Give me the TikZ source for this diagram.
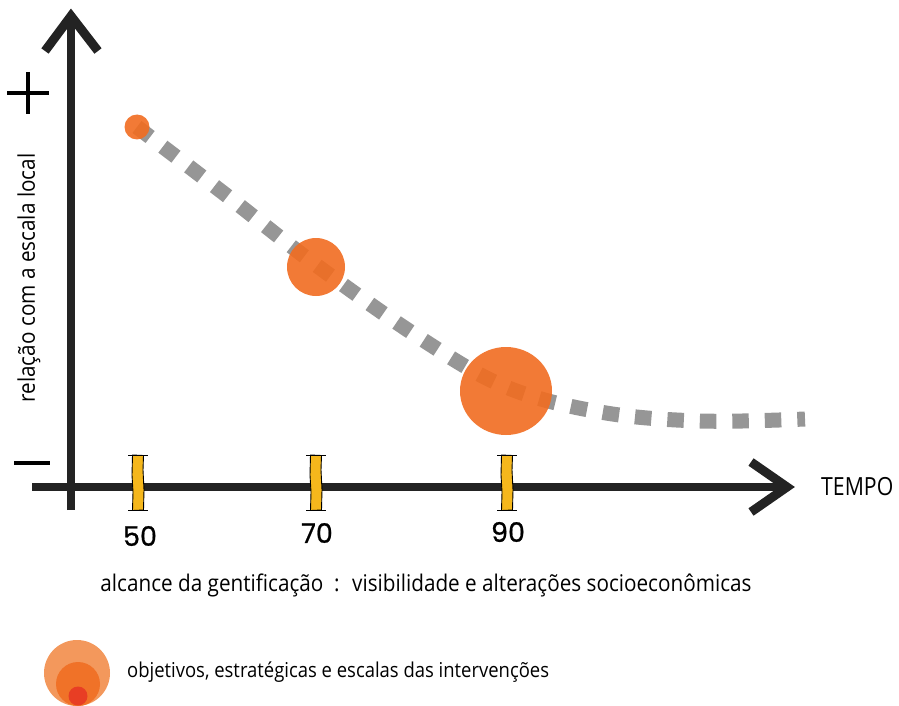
\documentclass[tikz,border=0pt]{standalone}
\usepackage{fontspec}
\setmainfont{Open Sans}
\newfontfamily\numfont[FakeBold=0.8]{Poppins}
\usetikzlibrary{calc}
\definecolor{axisblack}{RGB}{35,35,35}
\definecolor{dashgray}{RGB}{150,150,150}
\definecolor{mainorange}{RGB}{241,108,32}
\definecolor{lightorange}{RGB}{243,152,92}
\definecolor{midorange}{RGB}{240,114,40}
\definecolor{redorange}{RGB}{232,62,36}
\definecolor{tickyellow}{RGB}{245,183,28}
\tikzset{
  axisline/.style={draw=axisblack, line width=8.5pt},
  chevron/.style={draw=axisblack, line width=9pt, line join=miter, miter limit=10},
  signline/.style={draw=black, line width=3.5pt},
  trend/.style={draw=dashgray, line width=15pt, dash pattern=on 16.5pt off 16pt},
  bubble/.style={fill=mainorange, fill opacity=0.9},
  tickbox/.style={fill=tickyellow, draw=black, line width=0.9pt},
  tickserif/.style={draw=black, line width=0.9pt},
  yearlabel/.style={font=\numfont\fontsize{27}{30}\selectfont, inner sep=0pt},
  caption/.style={font=\fontsize{23}{26}\selectfont, inner sep=0pt},
}
\begin{document}
\begin{tikzpicture}[x=1pt,y=-1pt]
\useasboundingbox (0,0) rectangle (899,706);
% trend dashed curve
\draw[trend] plot[smooth, tension=0.6] coordinates {(137,127) (226,195) (316,265) (420,338) (506,387) (600,412) (700,421) (805,419)};
% bubbles
\fill[bubble] (137,127) circle[radius=12.5];
\fill[bubble] (316,267) circle[radius=29];
\fill[bubble] (506,391) circle[x radius=46, y radius=44];
% axes
\draw[axisline] (71,510) -- (71,20);
\draw[chevron] (45,51) -- (71,16) -- (98,51);
\draw[axisline] (32,487) -- (785,487);
\draw[chevron] (751,462) -- (787,487) -- (751,512);
% plus / minus
\draw[signline] (7,93) -- (49,93);
\draw[signline] (28,72) -- (28,114);
\draw[signline] (14,463) -- (50,463);
% tick markers
\foreach \tx in {138,316,507}{
  \draw[tickbox] (\tx-5.5,455) -- (\tx+5.5,455.5) -- (\tx+5,470) -- (\tx+6,490) -- (\tx+5.5,510) -- (\tx-5.5,510.5) -- (\tx-5,492) -- (\tx-6,475) -- cycle;
  \draw[tickserif] (\tx-10,455) -- (\tx+10,455);
  \draw[tickserif] (\tx-10,510.5) -- (\tx+10,510.5);
}
% labels
\node[yearlabel] (y50) at (140,536) {50};
\node[yearlabel] (y70) at (317,533) {70};
\node[yearlabel] (y90) at (508,532) {90};
\node[font=\fontsize{25}{28}\selectfont, inner sep=0pt, anchor=west] (tempo) at (821,487) {\scalebox{0.85}[1]{TEMPO}};
\node[font=\fontsize{23}{26}\selectfont, inner sep=0pt, rotate=90] (ylab) at (29,278) {\scalebox{0.9}[1]{relação com a escala local}};
\node[caption] (cap) at (426,585) {\scalebox{0.9}[1]{alcance da gentificação \ : \ visibilidade e alterações socioeconômicas}};
% legend
\fill[lightorange] (77,673) circle[radius=33];
\fill[midorange] (78,684) circle[radius=22];
\fill[redorange] (78,696) circle[radius=9.5];
\node[font=\fontsize{20.5}{24}\selectfont, inner sep=0pt, anchor=west] (leg) at (127,672) {\scalebox{0.9}[1]{objetivos, estratégicas e escalas das intervenções}};
\end{tikzpicture}
\end{document}
